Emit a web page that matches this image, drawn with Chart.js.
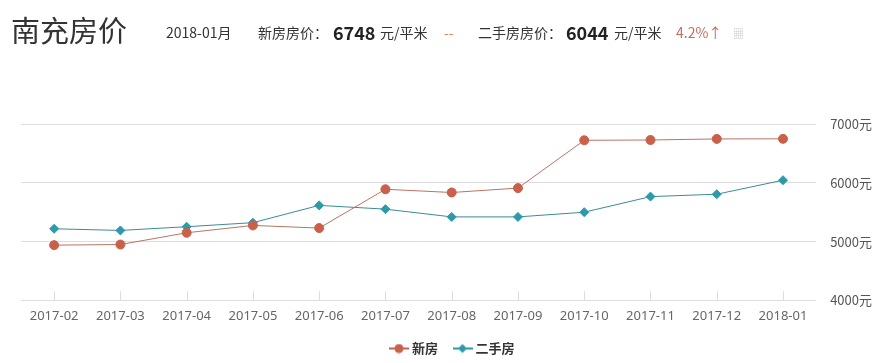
<!DOCTYPE html>
<html>
<head>
<meta charset="utf-8">
<script src="https://cdn.jsdelivr.net/npm/chart.js@4"></script>
<style>
  body { margin: 0; background: #fff; font-family: "Noto Sans CJK SC", "Noto Sans", sans-serif; }
  #wrap { position: relative; width: 886px; height: 363px; }
  #head span { position: absolute; white-space: nowrap; color: #333; }
  .t { left: 11px; top: 8px; font-size: 29px; color: #333; }
  .s { font-size: 14px; top: 22px; }
  .n { font-size: 18px; font-weight: bold; top: 19px; color: #222 !important; }
</style>
</head>
<body>
<div id="wrap">
  <div id="head">
    <span class="t">南充房价</span>
    <span class="s" style="left:166px">2018-01月</span>
    <span class="s" style="left:258px">新房房价：</span>
    <span class="n" style="left:333px">6748</span>
    <span class="s" style="left:380px">元/平米</span>
    <span class="s" style="left:444px;color:#d9875f">--</span>
    <span class="s" style="left:478px">二手房房价：</span>
    <span class="n" style="left:566px">6044</span>
    <span class="s" style="left:614px">元/平米</span>
    <span class="s" style="left:676px;color:#c0705a">4.2%↑</span>
    <span class="s" style="left:733px;color:#ccc;font-size:11px;top:25px">&#x25A6;</span>
  </div>
  <canvas id="lineChart" width="886" height="363"></canvas>
</div>
<script>
const labelLine = ['2017-02', '2017-03', '2017-04', '2017-05', '2017-06', '2017-07', '2017-08', '2017-09', '2017-10', '2017-11', '2017-12', '2018-01'];
const dataNew = [4940, 4950, 5150, 5275, 5230, 5890, 5835, 5910, 6723, 6728, 6746, 6748];
const dataOld = [5218, 5190, 5253, 5322, 5616, 5552, 5420, 5420, 5500, 5765, 5806, 6044];
const yTicks = [4000, 5000, 6000, 7000];

// legend marker: short line with the point on it
function legendIcon(color, shape) {
    const cv = document.createElement('canvas');
    cv.width = 20; cv.height = 10;
    const c = cv.getContext('2d');
    c.strokeStyle = color; c.fillStyle = color; c.lineWidth = 2;
    c.beginPath(); c.moveTo(0, 5); c.lineTo(20, 5); c.stroke();
    c.beginPath();
    if (shape === 'circle') c.arc(10, 5, 4.5, 0, Math.PI * 2);
    else { c.moveTo(10, 0.5); c.lineTo(14.5, 5); c.lineTo(10, 9.5); c.lineTo(5.5, 5); c.closePath(); }
    c.fill();
    return cv;
}

// small upward tick marks on the x axis
const xTicks = {
    id: 'xTicks',
    afterDatasetsDraw(chart) {
        const c = chart.ctx, x = chart.scales.x, b = chart.chartArea.bottom;
        c.save();
        c.strokeStyle = '#ddd';
        c.lineWidth = 1;
        x.ticks.forEach((t, i) => {
            const px = Math.round(x.getPixelForTick(i)) + 0.5;
            c.beginPath();
            c.moveTo(px, b);
            c.lineTo(px, b - 9);
            c.stroke();
        });
        c.restore();
    }
};

const icons = [legendIcon('#c8604a', 'circle'), legendIcon('#2b9aaa', 'diamond')];

const ctx = document.getElementById('lineChart').getContext('2d');
const graph = new Chart(ctx, {
    type: 'line',
    data: {
        labels: labelLine,
        datasets: [{
            label: '新房',
            data: dataNew,
            borderColor: '#b87464',
            backgroundColor: '#c8604a',
            pointBackgroundColor: '#c8604a',
            pointBorderColor: '#c8604a',
            pointStyle: 'circle',
            pointRadius: 4.5,
            borderWidth: 1,
            tension: 0
        },
        {
            label: '二手房',
            data: dataOld,
            borderColor: '#3a8c94',
            backgroundColor: '#2b9aaa',
            pointBackgroundColor: '#2b9aaa',
            pointBorderColor: '#2b9aaa',
            pointStyle: 'rectRot',
            pointRadius: 4.5,
            borderWidth: 1,
            tension: 0
        }]
    },
    options: {
        responsive: false,
        animation: false,
        layout: { padding: { top: 124, left: 21, right: 0, bottom: -2 } },
        scales: {
            x: {
                offset: true,
                grid: { display: false },
                border: { display: false },
                ticks: { color: '#666', font: { size: 13, family: 'Noto Sans' }, padding: 0, maxRotation: 0 }
            },
            y: {
                position: 'right',
                min: 4000,
                max: 7000,
                afterBuildTicks: s => { s.ticks = yTicks.map(v => ({ value: v })); },
                grid: { color: '#ddd', drawTicks: false },
                border: { display: false },
                ticks: { color: '#555', padding: 14, font: { size: 13, family: 'Noto Sans CJK SC' }, callback: v => v + '元' }
            }
        },
        plugins: {
            legend: {
                position: 'bottom',
                labels: {
                    usePointStyle: true,
                    padding: 18,
                    color: '#333',
                    font: { size: 13, weight: 'bold', family: 'Noto Sans CJK SC' },
                    generateLabels: chart => Chart.defaults.plugins.legend.labels.generateLabels(chart)
                        .map((l, i) => Object.assign(l, { pointStyle: icons[i] }))
                }
            },
            tooltip: { enabled: false }
        }
    },
    plugins: [xTicks]
});
</script>
</body>
</html>
